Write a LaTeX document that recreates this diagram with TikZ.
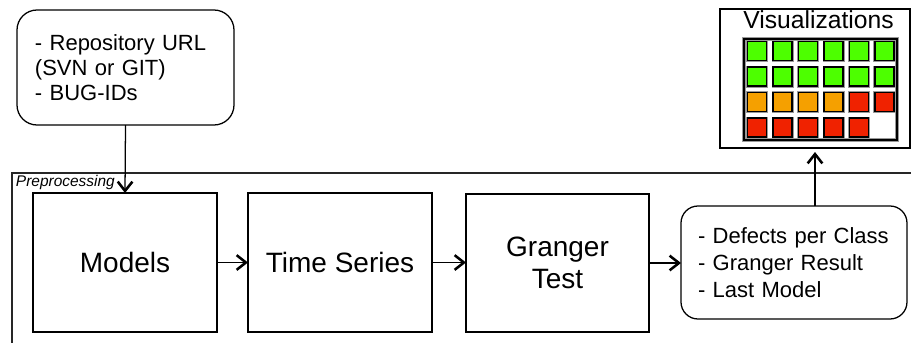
\documentclass[tikz,border=0pt]{standalone}
\usepackage{fontspec}
\setmainfont{Liberation Sans}
\usetikzlibrary{arrows.meta}
\definecolor{cellgreen}{RGB}{77,255,0}
\definecolor{cellorange}{RGB}{245,160,0}
\definecolor{cellred}{RGB}{240,34,0}
\begin{document}
\begin{tikzpicture}[x=0.75pt,y=-0.75pt,
  every node/.style={inner sep=0pt,outer sep=0pt},
  line/.style={line width=0.95pt,draw=black},
  arr/.style={line,-{Straight Barb[length=7pt,width=11pt,line width=1.9pt]}},
  stage/.style={line,rectangle,minimum width=138pt,minimum height=104.25pt,
    align=center,font=\fontsize{21}{24}\selectfont},
  data/.style={line,rectangle,rounded corners=15pt,align=left,
    font=\fontsize{16.5}{19}\selectfont},
  cell/.style={rectangle,minimum size=14.25pt,draw=black,line width=1.1pt},
  halo/.style={rectangle,draw=black!40,line width=2.4pt}]
\useasboundingbox (0,0) rectangle (911,343);

% preprocessing frame (open to the right and below)
\draw[line width=1pt,draw=black!85] (911,173) -- (12,173) -- (12,343);
\node[anchor=base west,font=\fontsize{11.6}{13}\selectfont\itshape] (prep) at (16,186) {Preprocessing};

% input description
\node[data,minimum width=162.75pt,minimum height=86.25pt,text width=135.75pt,inner xsep=13.5pt] (in) at (125.5,67.5)
  {- Repository URL\\(SVN or GIT)\\- BUG-IDs};

% processing stages
\node[stage] (models) at (125,262.5) {Models};
\node[stage] (ts) at (340,262.5) {Time Series};
\node[stage,minimum width=137.25pt,minimum height=103.5pt] (granger) at (557.5,263) {Granger\\Test};

% results
\node[data,rounded corners=12.75pt,minimum width=169.5pt,minimum height=84.75pt,text width=144pt,inner xsep=12.75pt,
  font=\fontsize{16.5}{20.25}\selectfont] (out) at (794,262.5)
  {- Defects per Class\\- Granger Result\\- Last Model};

% visualizations panel
\node[line,rectangle,minimum width=142.5pt,minimum height=104.25pt] (vis) at (815,78.5) {};
\node[anchor=base,font=\fontsize{18.5}{20}\selectfont] (vistitle) at (818.5,28) {Visualizations};
\node[halo,minimum width=114.75pt,minimum height=75.75pt] (gridbg) at (820.5,89.5) {};
\node[line,rectangle,minimum width=114.75pt,minimum height=75.75pt] (grid) at (820.5,89.5) {};

\foreach \row/\cols in {0/{cellgreen,cellgreen,cellgreen,cellgreen,cellgreen,cellgreen},
                        1/{cellgreen,cellgreen,cellgreen,cellgreen,cellgreen,cellgreen},
                        2/{cellorange,cellorange,cellorange,cellorange,cellred,cellred},
                        3/{cellred,cellred,cellred,cellred,cellred}}{
  \foreach \fillc [count=\i from 0] in \cols {
    \node[halo,minimum size=14.25pt,line width=2.2pt] (h-\row-\i) at (757.2+25.45*\i,51.2+25.5*\row) {};
    \node[cell,fill=\fillc] (c-\row-\i) at (757.2+25.45*\i,51.2+25.5*\row) {};
  }
}

% connectors
\draw[arr] (in.south) -- (models.north);
\draw[arr] (models.east) -- (ts.west);
\draw[arr] (ts.east) -- (granger.west |- ts.east);
\draw[arr] (granger.east) -- (out.west |- granger.east);
\draw[arr,shorten >=3pt] (out.north -| vis.south) -- (vis.south);
\end{tikzpicture}
\end{document}
